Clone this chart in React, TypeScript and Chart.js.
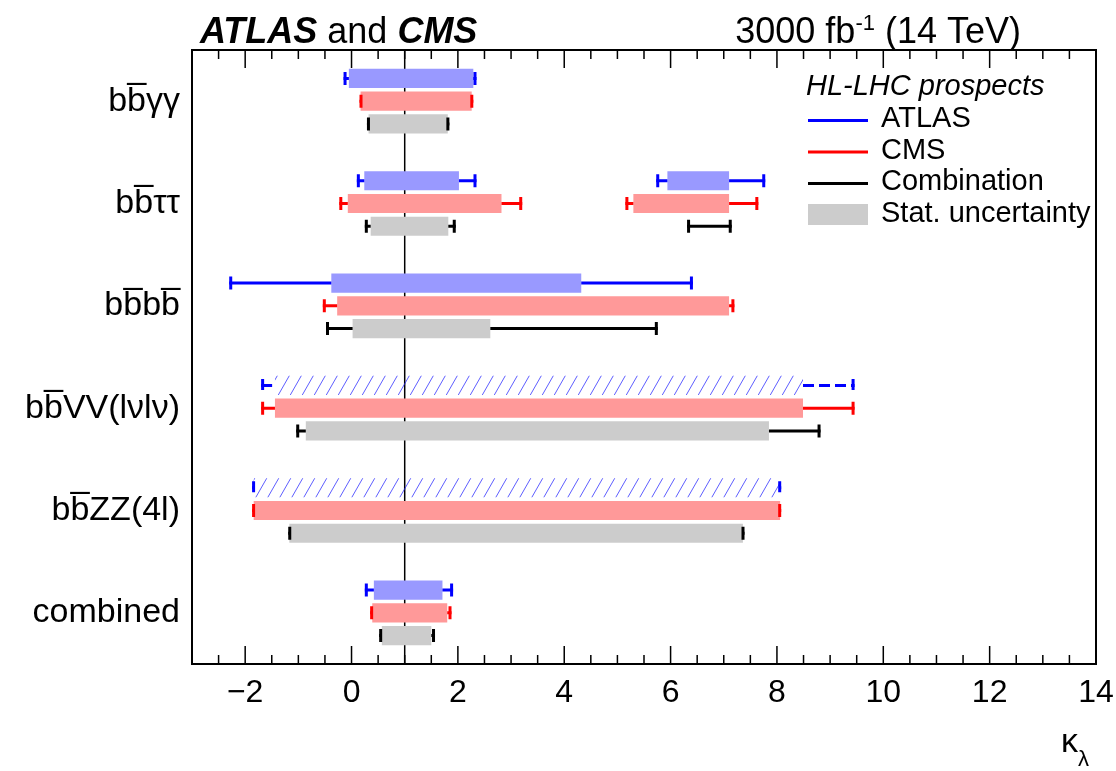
import React, { useEffect, useRef } from "react";
import { Chart, registerables } from "chart.js";

Chart.register(...registerables);

const BB = "bb\u0305";
const categories = [BB + "γγ", BB + "ττ", BB + "bb\u0305", BB + "VV(lνlν)", BB + "ZZ(4l)", "combined"];

type Iv = [number, number] | null;

// stat (box) and total (whisker) intervals on kappa_lambda
const atlasStat: Iv[] = [[-0.05, 2.29], [0.24, 2.02], [-0.38, 4.32], [-1.44, 8.49], [-1.84, 8.06], [0.42, 1.71]];
const atlasTotal: Iv[] = [[-0.15, 2.35], [0.1, 2.35], [-2.3, 6.42], [-1.7, 9.46], [-1.87, 8.08], [0.25, 1.91]];
const cmsStat: Iv[] = [[0.17, 2.26], [-0.07, 2.82], [-0.27, 7.1], [-1.44, 8.49], [-1.84, 8.06], [0.39, 1.8]];
const cmsTotal: Iv[] = [[0.15, 2.29], [-0.23, 3.21], [-0.54, 7.2], [-1.7, 9.46], [-1.87, 8.08], [0.35, 1.88]];
const combStat: Iv[] = [[0.32, 1.81], [0.36, 1.82], [0.02, 2.61], [-0.86, 7.85], [-1.17, 7.36], [0.57, 1.5]];
const combTotal: Iv[] = [[0.29, 1.84], [0.25, 1.96], [-0.48, 5.76], [-1.04, 8.82], [-1.19, 7.39], [0.52, 1.57]];

// second interval (bbtautau)
const atlasStat2: Iv[] = [null, [5.94, 7.1], null, null, null, null];
const atlasTotal2: Iv[] = [null, [5.73, 7.78], null, null, null, null];
const cmsStat2: Iv[] = [null, [5.3, 7.1], null, null, null, null];
const cmsTotal2: Iv[] = [null, [5.15, 7.65], null, null, null, null];
const combStat2: Iv[] = [null, null, null, null, null, null];
const combTotal2: Iv[] = [null, [6.31, 7.15], null, null, null, null];

// ATLAS entries shown as hatched / dashed
const atlasProxy = [false, false, false, true, true, false];

const xTicks = [-2, 0, 2, 4, 6, 8, 10, 12, 14];
const xMin = -3;
const xMax = 14;
const smValue = 1;

const legendTitle = "HL-LHC prospects";
const legendLabels = ["ATLAS", "CMS", "Combination", "Stat. uncertainty"];

const FONT = "'Liberation Sans', Arial, Helvetica, sans-serif";
const BLUE = "#0000ff";
const RED = "#ff0000";
const BLACK = "#000000";
const BLUE_FILL = "#9999ff";
const RED_FILL = "#ff9999";
const GREY_FILL = "#cccccc";

export default function App() {
  const ref = useRef<HTMLCanvasElement | null>(null);

  useEffect(() => {
    const canvas = ref.current!;
    const ctx0 = canvas.getContext("2d")!;

    const pc = document.createElement("canvas");
    pc.width = 12;
    pc.height = 21;
    const g = pc.getContext("2d")!;
    g.strokeStyle = "rgba(40,40,255,0.75)";
    g.lineWidth = 1;
    g.beginPath();
    g.moveTo(0, 21);
    g.lineTo(12, 0);
    g.moveTo(-12, 21);
    g.lineTo(0, 0);
    g.moveTo(12, 21);
    g.lineTo(24, 0);
    g.stroke();
    const hatch = ctx0.createPattern(pc, "repeat")!;

    const whiskers = [
      { geom: 0, stat: atlasStat, total: atlasTotal, color: BLUE, dashed: atlasProxy },
      { geom: 1, stat: cmsStat, total: cmsTotal, color: RED, dashed: null },
      { geom: 2, stat: combStat, total: combTotal, color: BLACK, dashed: null },
      { geom: 0, stat: atlasStat2, total: atlasTotal2, color: BLUE, dashed: null },
      { geom: 1, stat: cmsStat2, total: cmsTotal2, color: RED, dashed: null },
      { geom: 2, stat: combStat2, total: combTotal2, color: BLACK, dashed: null },
    ];

    const bgPlugin = {
      id: "smline",
      beforeDatasetsDraw(chart: any) {
        const { ctx, chartArea } = chart;
        const xs = chart.scales.x;
        const px = xs.getPixelForValue(smValue);
        ctx.save();
        ctx.strokeStyle = "#000";
        ctx.lineWidth = 1.5;
        ctx.beginPath();
        ctx.moveTo(px, chartArea.top);
        ctx.lineTo(px, chartArea.bottom);
        ctx.stroke();
        ctx.restore();
      },
    };

    const whiskerPlugin = {
      id: "whiskers",
      afterDatasetsDraw(chart: any) {
        const { ctx } = chart;
        const xs = chart.scales.x;
        ctx.save();
        ctx.lineWidth = 3;
        ctx.lineCap = "butt";
        for (const w of whiskers) {
          const meta = chart.getDatasetMeta(w.geom);
          w.total.forEach((t, j) => {
            if (!t) return;
            const el = meta.data[j] as any;
            const y = el.y;
            const h = el.height;
            const xl = xs.getPixelForValue(t[0]);
            const xh = xs.getPixelForValue(t[1]);
            const s = w.stat[j];
            ctx.strokeStyle = w.color;
            ctx.setLineDash(w.dashed && w.dashed[j] ? [11, 5] : []);
            ctx.beginPath();
            if (s) {
              const sl = xs.getPixelForValue(s[0]);
              const sh = xs.getPixelForValue(s[1]);
              if (sl > xl) { ctx.moveTo(xl, y); ctx.lineTo(sl, y); }
              if (xh > sh) { ctx.moveTo(sh, y); ctx.lineTo(xh, y); }
            } else {
              ctx.moveTo(xl, y);
              ctx.lineTo(xh, y);
            }
            ctx.stroke();
            const ch = h * 0.34;
            ctx.beginPath();
            ctx.moveTo(xl + 1.5, y - ch);
            ctx.lineTo(xl + 1.5, y + ch);
            ctx.moveTo(xh - 1.5, y - ch);
            ctx.lineTo(xh - 1.5, y + ch);
            ctx.stroke();
          });
        }
        ctx.restore();
      },
    };

    const framePlugin = {
      id: "frame",
      afterDraw(chart: any) {
        const { ctx, chartArea } = chart;
        const xs = chart.scales.x;
        const { left, right, top, bottom } = chartArea;
        ctx.save();
        ctx.strokeStyle = "#000";
        ctx.lineWidth = 1.5;
        // ticks
        ctx.beginPath();
        for (let v = xMin; v <= xMax + 1e-9; v += 0.5) {
          const px = xs.getPixelForValue(v);
          const major = xTicks.includes(v);
          const len = major ? 18 : 9;
          ctx.moveTo(px, bottom);
          ctx.lineTo(px, bottom - len);
          ctx.moveTo(px, top);
          ctx.lineTo(px, top + len);
        }
        ctx.stroke();
        ctx.lineWidth = 2;
        ctx.strokeRect(left, top, right - left, bottom - top);

        // title
        ctx.fillStyle = "#000";
        ctx.textBaseline = "alphabetic";
        ctx.textAlign = "left";
        let x = 200;
        const by = 43;
        ctx.font = `italic bold 36px ${FONT}`;
        ctx.fillText("ATLAS", x, by);
        x += ctx.measureText("ATLAS").width;
        ctx.font = `36px ${FONT}`;
        ctx.fillText(" and ", x, by);
        x += ctx.measureText(" and ").width;
        ctx.font = `italic bold 36px ${FONT}`;
        ctx.fillText("CMS", x, by);

        const p1 = "3000 fb";
        const p2 = "-1";
        const p3 = " (14 TeV)";
        ctx.font = `36px ${FONT}`;
        const w1 = ctx.measureText(p1).width;
        const w3 = ctx.measureText(p3).width;
        ctx.font = `22px ${FONT}`;
        const w2 = ctx.measureText(p2).width;
        let rx = 1021 - (w1 + w2 + w3);
        ctx.font = `36px ${FONT}`;
        ctx.fillText(p1, rx, by);
        rx += w1;
        ctx.font = `22px ${FONT}`;
        ctx.fillText(p2, rx, by - 13);
        rx += w2;
        ctx.font = `36px ${FONT}`;
        ctx.fillText(p3, rx, by);

        // axis title
        ctx.font = `34px ${FONT}`;
        ctx.fillText("κ", 1061, 752);
        ctx.font = `22px ${FONT}`;
        ctx.fillText("λ", 1078, 766);

        // legend
        ctx.font = `italic 29px ${FONT}`;
        ctx.textBaseline = "middle";
        ctx.fillText(legendTitle, 806, 87);
        ctx.font = `29px ${FONT}`;
        const rows = [119, 150.5, 182, 214];
        const cols = [BLUE, RED, BLACK];
        ctx.lineWidth = 3;
        legendLabels.forEach((lab, i) => {
          const ly = rows[i];
          if (i < 3) {
            ctx.strokeStyle = cols[i];
            ctx.beginPath();
            ctx.moveTo(808, ly + 1.5);
            ctx.lineTo(868, ly + 1.5);
            ctx.stroke();
          } else {
            ctx.fillStyle = GREY_FILL;
            ctx.fillRect(808, 204, 60, 21);
          }
          ctx.fillStyle = "#000";
          ctx.fillText(lab, 881, ly);
        });
        ctx.restore();
      },
    };

    const chart = new Chart(canvas, {
      type: "bar",
      data: {
        labels: categories,
        datasets: [
          {
            label: "ATLAS",
            data: atlasStat as any,
            stack: "atlas",
            backgroundColor: (c: any) => (atlasProxy[c.dataIndex] ? hatch : BLUE_FILL),
          },
          { label: "CMS", data: cmsStat as any, stack: "cms", backgroundColor: RED_FILL },
          { label: "Combination", data: combStat as any, stack: "comb", backgroundColor: GREY_FILL },
          { label: "ATLAS (2)", data: atlasStat2 as any, stack: "atlas", backgroundColor: BLUE_FILL },
          { label: "CMS (2)", data: cmsStat2 as any, stack: "cms", backgroundColor: RED_FILL },
        ],
      },
      options: {
        indexAxis: "y",
        responsive: false,
        animation: false,
        events: [],
        categoryPercentage: 0.667,
        barPercentage: 0.84,
        layout: { padding: { top: 50, right: 20, left: 0, bottom: 0 } },
        plugins: { legend: { display: false }, tooltip: { enabled: false }, title: { display: false } },
        datasets: { bar: { borderWidth: 0 } } as any,
        scales: {
          x: {
            type: "linear",
            min: xMin,
            max: xMax,
            stacked: false,
            grid: { display: false },
            border: { display: false },
            afterBuildTicks: (s: any) => {
              s.ticks = xTicks.map((v) => ({ value: v }));
            },
            afterFit: (s: any) => {
              s.height = 107;
              s.paddingRight = 0;
              s.paddingLeft = 0;
            },
            ticks: {
              autoSkip: false,
              maxRotation: 0,
              padding: 2,
              color: "#000",
              font: { family: FONT, size: 32 },
              callback: (v: any) => (Number(v) < 0 ? "\u2212" + Math.abs(Number(v)) : String(v)),
            },
          },
          y: {
            type: "category",
            grid: { display: false },
            border: { display: false },
            afterFit: (s: any) => {
              s.width = 192;
              s.paddingTop = 0;
              s.paddingBottom = 0;
            },
            ticks: {
              autoSkip: false,
              padding: 4,
              color: "#000",
              font: { family: FONT, size: 34 },
            },
          },
        },
      } as any,
      plugins: [bgPlugin, whiskerPlugin, framePlugin],
    });
    return () => chart.destroy();
  }, []);

  return (
    <div style={{ position: "fixed", left: 0, top: 0, width: 1116, height: 771, background: "#fff" }}>
      <canvas ref={ref} width={1116} height={771} style={{ width: 1116, height: 771, display: "block" }} />
    </div>
  );
}
